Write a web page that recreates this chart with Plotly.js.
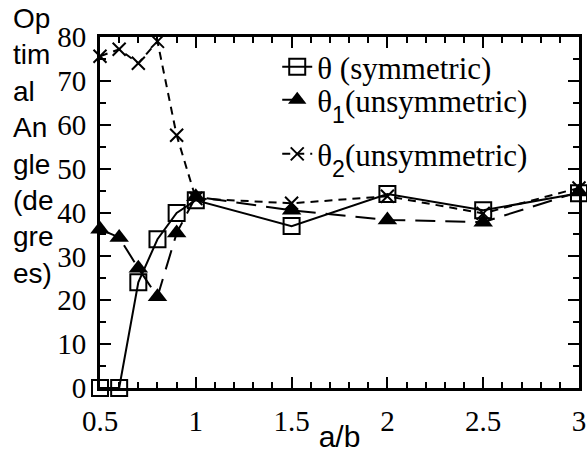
<!DOCTYPE html>
<html><head><meta charset="utf-8">
<script src="https://cdn.plot.ly/plotly-3.0.1.min.js"></script>
<style>body{margin:0;background:#fff;}#chart{width:587px;height:453px;}</style>
</head><body><div id="chart"></div>
<script>
// Data
const aOverB   = [0.5, 0.6, 0.7, 0.8, 0.9, 1, 1.5, 2, 2.5, 3];
const thetaSym = [0, 0, 24.1, 33.9, 39.9, 42.8, 36.9, 44.2, 40.5, 44.4];
const theta1   = [36.2, 34.3, 27.3, 20.8, 35.3, 43.6, 40.5, 38.3, 37.8, 44.7];
const theta2   = [75.6, 77.2, 74.0, 79.0, 57.6, 43.2, 42.1, 43.7, 39.8, 45.6];
const seriesNames = [
  'θ (symmetric)',
  'θ<sub><sub><span style="font-family:Liberation Sans;font-size:23px">1</span></sub></sub>(unsymmetric)',
  'θ<sub><sub><span style="font-family:Liberation Sans;font-size:23px">2</span></sub></sub>(unsymmetric)'
];
const xTitle = 'a/b';
const yTitleLines = ['Op', 'tim', 'al', 'An', 'gle', '(de', 'gre', 'es)'];

const traces = [
  {x: aOverB, y: thetaSym, name: seriesNames[0], legend: 'legend', mode: 'lines+markers', cliponaxis: false,
   line: {color: '#000', width: 2},
   marker: {symbol: 'square-open', size: 16, color: '#000', line: {width: 2, color: '#000'}}},
  {x: aOverB, y: theta1, name: seriesNames[1], legend: 'legend2', mode: 'lines+markers', cliponaxis: false,
   line: {color: '#000', width: 2, dash: '20px,10px'},
   marker: {symbol: 'triangle-up', size: 17, color: '#000'}},
  {x: aOverB, y: theta2, name: seriesNames[2], legend: 'legend3', mode: 'lines+markers', cliponaxis: false,
   line: {color: '#000', width: 2, dash: '8px,6px'},
   marker: {symbol: 'x-thin-open', size: 13, color: '#000', line: {width: 2, color: '#000'}}}
];

const serif = 'Liberation Serif';
const sans = 'Liberation Sans';
const legendBase = {x: 0.37, xanchor: 'left', yanchor: 'top', bgcolor: 'rgba(0,0,0,0)',
                    font: {family: serif, size: 31, color: '#000'}};

const layout = {
  width: 587, height: 453,
  margin: {l: 100, r: 8, t: 37, b: 65},
  paper_bgcolor: '#fff', plot_bgcolor: '#fff',
  font: {family: serif, size: 29, color: '#000'},
  showlegend: true,
  legend: Object.assign({}, legendBase, {y: 0.991}),
  legend2: Object.assign({}, legendBase, {y: 0.897}),
  legend3: Object.assign({}, legendBase, {y: 0.743}),
  xaxis: {range: [0.5, 3], dtick: 0.5, tick0: 0.5, ticks: 'inside', ticklen: 11, tickwidth: 2,
          tickcolor: '#000', showline: true, linecolor: '#000', linewidth: 3, mirror: 'allticks',
          showgrid: false, zeroline: false, ticklabelstandoff: 5, ticklabeloverflow: 'allow',
          tickfont: {family: serif, size: 29, color: '#000'},
          minor: {dtick: 0.1, ticks: 'inside', ticklen: 6, tickwidth: 2, tickcolor: '#000', showgrid: false},
          title: {text: xTitle, font: {family: sans, size: 30, color: '#000'}, standoff: 2}},
  yaxis: {range: [0, 80], dtick: 10, ticks: 'inside', ticklen: 11, tickwidth: 2,
          tickcolor: '#000', showline: true, linecolor: '#000', linewidth: 3, mirror: 'allticks',
          showgrid: false, zeroline: false, ticklabelstandoff: 5, ticklabeloverflow: 'allow',
          tickfont: {family: serif, size: 29, color: '#000'},
          minor: {dtick: 5, ticks: 'inside', ticklen: 6, tickwidth: 2, tickcolor: '#000', showgrid: false}},
  annotations: [{
    text: yTitleLines.join('<br>'), xref: 'paper', yref: 'paper',
    x: -0.185, y: 0.69, xanchor: 'left', yanchor: 'middle', align: 'left', showarrow: false,
    font: {family: sans, size: 28, color: '#000'}
  }]
};

Plotly.newPlot('chart', traces, layout, {displayModeBar: false});
</script></body></html>
